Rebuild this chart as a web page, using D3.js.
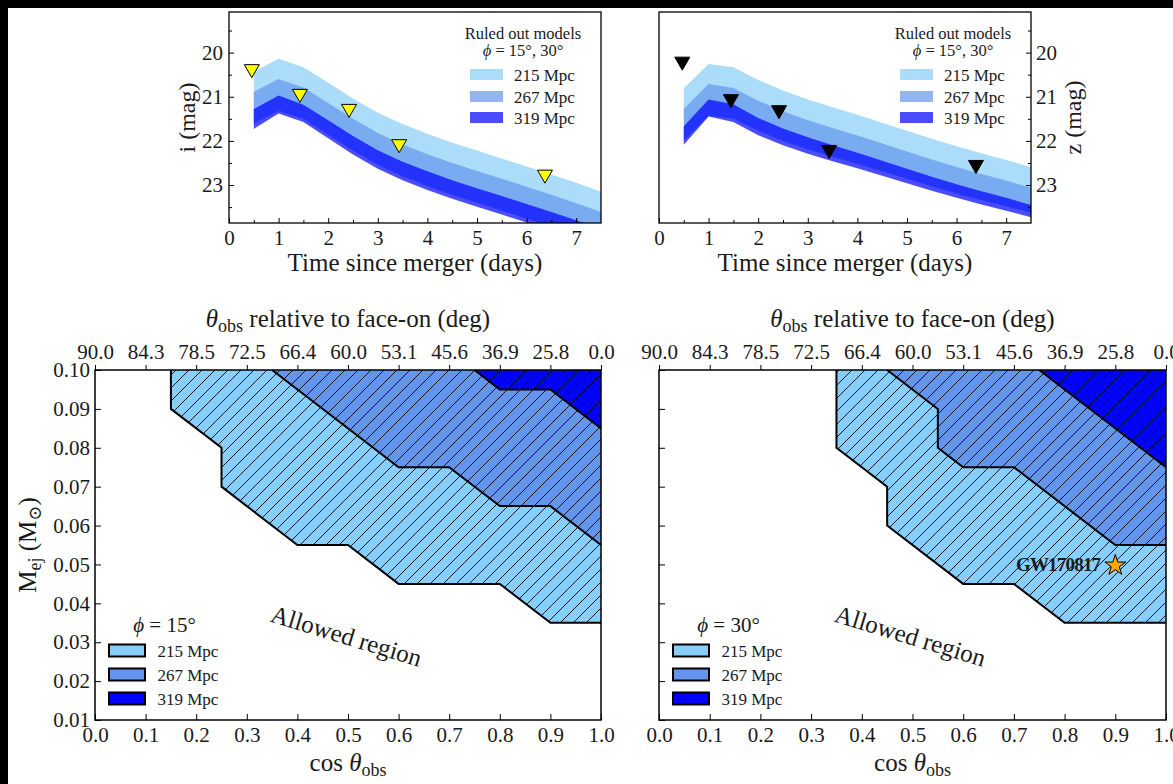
<!DOCTYPE html>
<html><head><meta charset="utf-8">
<script src="https://cdn.jsdelivr.net/npm/d3@7"></script>
<style>
body{margin:0;background:#fff}
svg{display:block}
text{font-family:"Liberation Serif","DejaVu Serif",serif;fill:#1a1a1a}
</style>
</head><body>
<svg id="c" width="1173" height="784"></svg>
<script>
// ---------------- DATA ----------------
// Top panels: light-curve bands (magnitudes) vs time since merger (days)
const tDays = [0.5, 1, 1.5, 2, 2.5, 3, 3.5, 4, 4.5, 5, 5.5, 6, 6.5, 7, 7.5];
// i band
const i215Up = [20.43,20.14,20.33,20.68,21.04,21.36,21.62,21.84,22.04,22.22,22.40,22.58,22.76,22.95,23.15];
const i215Lo = [21.61,21.32,21.50,21.86,22.22,22.54,22.80,23.02,23.22,23.40,23.58,23.76,23.94,24.13,24.33];
const i267Up = [20.89,20.60,20.79,21.14,21.50,21.82,22.08,22.30,22.50,22.68,22.86,23.04,23.22,23.41,23.61];
const i267Lo = [21.61,21.32,21.50,21.86,22.22,22.54,22.80,23.02,23.22,23.40,23.58,23.76,23.94,24.13,24.33];
const i319Up = [21.28,20.97,21.18,21.53,21.89,22.21,22.47,22.69,22.89,23.07,23.25,23.43,23.61,23.80,24.00];
const i319Lo = [21.73,21.38,21.57,21.94,22.31,22.63,22.89,23.11,23.31,23.49,23.67,23.85,24.03,24.22,24.42];
// z band
const z215Up = [20.81,20.26,20.33,20.62,20.86,21.06,21.24,21.41,21.59,21.77,21.95,22.12,22.28,22.43,22.59];
const z215Lo = [21.99,21.43,21.49,21.77,22.00,22.19,22.36,22.52,22.69,22.86,23.03,23.19,23.34,23.48,23.63];
const z267Up = [21.28,20.71,20.80,21.09,21.33,21.53,21.71,21.88,22.06,22.24,22.42,22.59,22.75,22.90,23.06];
const z267Lo = [21.99,21.43,21.49,21.77,22.00,22.19,22.36,22.52,22.69,22.86,23.03,23.19,23.34,23.48,23.63];
const z319Up = [21.67,21.06,21.17,21.48,21.72,21.92,22.10,22.27,22.45,22.63,22.81,22.98,23.14,23.29,23.45];
const z319Lo = [22.09,21.45,21.57,21.87,22.10,22.29,22.46,22.62,22.79,22.96,23.13,23.29,23.44,23.58,23.73];
// upper limits (triangles)
const iLimT   = [0.46, 1.43, 2.42, 3.43, 6.37];
const iLimMag = [20.42, 20.98, 21.32, 22.12, 22.81];
const zLimT   = [0.47, 1.45, 2.42, 3.43, 6.39];
const zLimMag = [20.25, 21.10, 21.35, 22.25, 22.59];
const distLabels = ["215 Mpc", "267 Mpc", "319 Mpc"];
const bandColors = ["#87cefa", "#6495ed", "#0000ff"];

// Bottom panels: ruled-out region boundaries (cos theta_obs, M_ej)
const p15c215 = [0.15,0.15,0.25,0.25,0.40,0.50,0.60,0.80,0.90,1.00];
const p15m215 = [0.100,0.090,0.080,0.070,0.055,0.055,0.045,0.045,0.035,0.035];
const p15c267 = [0.35,0.60,0.70,0.80,0.90,1.00];
const p15m267 = [0.100,0.075,0.075,0.065,0.065,0.055];
const p15c319 = [0.75,0.80,0.90,1.00];
const p15m319 = [0.100,0.095,0.095,0.085];
const p30c215 = [0.35,0.35,0.45,0.45,0.60,0.70,0.80,1.00];
const p30m215 = [0.100,0.080,0.070,0.060,0.045,0.045,0.035,0.035];
const p30c267 = [0.45,0.55,0.55,0.60,0.70,0.90,1.00];
const p30m267 = [0.100,0.090,0.080,0.075,0.075,0.055,0.055];
const p30c319 = [0.75,1.00];
const p30m319 = [0.100,0.075];
const gwCos = 0.9, gwMej = 0.05;
const cosTicks = [0,0.1,0.2,0.3,0.4,0.5,0.6,0.7,0.8,0.9,1.0];
const thetaLabels = ["90.0","84.3","78.5","72.5","66.4","60.0","53.1","45.6","36.9","25.8","0.0"];
const mejTicks = [0.01,0.02,0.03,0.04,0.05,0.06,0.07,0.08,0.09,0.10];
const regionColors = ["#87cefa", "#6495ed", "#0000ff"];

// ---------------- DRAWING ----------------
const FONT = '"Liberation Serif","DejaVu Serif", serif';
const svg = d3.select("#c");
svg.append("rect").attr("x",0).attr("y",0).attr("width",1173).attr("height",784).attr("fill","#000");
svg.append("rect").attr("x",8).attr("y",8).attr("width",1165).attr("height",776).attr("fill","#fff");

const defs = svg.append("defs");
const pat = defs.append("pattern").attr("id","hatch").attr("patternUnits","userSpaceOnUse")
  .attr("width",13).attr("height",13);
pat.append("path").attr("d","M-1,1 l2,-2 M0,13 l13,-13 M12,14 l2,-2")
  .attr("stroke","#000").attr("stroke-width",0.9).attr("fill","none");

function styleAxis(g, fs) {
  g.select(".domain").remove();
  g.attr("font-family", null).attr("font-size", null);
  g.selectAll("text").attr("fill","#1a1a1a").style("font-size", fs+"px").style("font-family", FONT);
  g.selectAll("line").attr("stroke","#000").attr("stroke-width",1);
}

// ---- Top panels ----
function topPanel(id, x0, x1, bands, limT, limMag, triFill, side, ylab) {
  const x = d3.scaleLinear().domain([0,7.5]).range([x0,x1]);
  const y = d3.scaleLinear().domain([19.08,23.86]).range([12,223]);
  defs.append("clipPath").attr("id","clip"+id).append("rect")
    .attr("x",x0).attr("y",12).attr("width",x1-x0).attr("height",211);
  const g = svg.append("g").attr("clip-path","url(#clip"+id+")");
  const area = d3.area().x(d=>x(d.t)).y0(d=>y(d.lo)).y1(d=>y(d.hi));
  bands.forEach((b,k)=>{
    const data = tDays.map((t,j)=>({t, hi:b[0][j], lo:b[1][j]}));
    g.append("path").datum(data).attr("d",area).attr("fill",bandColors[k]).attr("fill-opacity",0.7);
  });
  // triangles (upper limits)
  const tri = "M-7.5,-6.5L7.5,-6.5L0,6.5Z";
  svg.append("g").selectAll("path").data(limT.map((t,j)=>({t,m:limMag[j]}))).join("path")
    .attr("transform",d=>`translate(${x(d.t)},${y(d.m)})`).attr("d",tri)
    .attr("fill",triFill).attr("stroke","#000").attr("stroke-width",1);
  // frame
  svg.append("rect").attr("x",x0).attr("y",12).attr("width",x1-x0).attr("height",211)
    .attr("fill","none").attr("stroke","#000").attr("stroke-width",1.3);
  // x axis
  const gx = svg.append("g").attr("transform","translate(0,223)")
    .call(d3.axisBottom(x).tickValues([0,1,2,3,4,5,6,7]).tickSize(-5).tickPadding(7).tickFormat(d3.format("d")));
  styleAxis(gx, 21);
  const gxm = svg.append("g").attr("transform","translate(0,223)")
    .call(d3.axisBottom(x).tickValues([0.5,1.5,2.5,3.5,4.5,5.5,6.5]).tickSize(-3).tickFormat(""));
  styleAxis(gxm, 21);
  // y axis
  const yMaj = [20,21,22,23], yMin = [19.5,20.5,21.5,22.5,23.5];
  if (side === "left") {
    const gy = svg.append("g").attr("transform",`translate(${x0},0)`)
      .call(d3.axisLeft(y).tickValues(yMaj).tickSize(-5).tickPadding(6).tickFormat(d3.format("d")));
    styleAxis(gy, 21);
    const gym = svg.append("g").attr("transform",`translate(${x0},0)`)
      .call(d3.axisLeft(y).tickValues(yMin).tickSize(-3).tickFormat(""));
    styleAxis(gym, 21);
  } else {
    const gy = svg.append("g").attr("transform",`translate(${x1},0)`)
      .call(d3.axisRight(y).tickValues(yMaj).tickSize(-5).tickPadding(5).tickFormat(d3.format("d")));
    styleAxis(gy, 21);
    const gym = svg.append("g").attr("transform",`translate(${x1},0)`)
      .call(d3.axisRight(y).tickValues(yMin).tickSize(-3).tickFormat(""));
    styleAxis(gym, 21);
  }
  // labels
  svg.append("text").attr("x",(x0+x1)/2).attr("y",271).attr("text-anchor","middle")
    .style("font-size","25px").text("Time since merger (days)");
  const lx = side === "left" ? x0-42 : x1+42;
  svg.append("text").attr("transform",`translate(${lx+8},117.5) rotate(-90)`).attr("text-anchor","middle")
    .style("font-size","24px").text(ylab);
  // legend
  const cx = x0 + 294;
  svg.append("text").attr("x",cx).attr("y",38.5).attr("text-anchor","middle").style("font-size","16.5px").text("Ruled out models");
  const t2 = svg.append("text").attr("x",cx).attr("y",56).attr("text-anchor","middle").style("font-size","16.5px");
  t2.append("tspan").style("font-style","italic").text("ϕ");
  t2.append("tspan").text(" = 15°, 30°");
  distLabels.forEach((lab,k)=>{
    const yy = [69,91,112][k];
    svg.append("rect").attr("x",x0+241).attr("y",yy).attr("width",33).attr("height",11)
      .attr("fill",bandColors[k]).attr("fill-opacity",0.7);
    svg.append("text").attr("x",x0+285).attr("y",yy+12).style("font-size","17px").text(lab);
  });
}

topPanel("tl", 229, 601, [[i215Up,i215Lo],[i267Up,i267Lo],[i319Up,i319Lo]], iLimT, iLimMag, "#ffff00", "left", "i (mag)");
topPanel("tr", 659, 1031, [[z215Up,z215Lo],[z267Up,z267Lo],[z319Up,z319Lo]], zLimT, zLimMag, "#000000", "right", "z (mag)");

// ---- Bottom panels ----
function bottomPanel(x0, x1, regions, phiText, showY, showGW) {
  const x = d3.scaleLinear().domain([0,1]).range([x0,x1]);
  const y = d3.scaleLinear().domain([0.01,0.10]).range([720,370]);
  const line = d3.line().x(d=>x(d[0])).y(d=>y(d[1]));
  regions.forEach((r,k)=>{
    const pts = r[0].map((c,j)=>[c, r[1][j]]);
    const poly = pts.concat([[1.0,0.10]]);
    svg.append("path").attr("d", line(poly)+"Z").attr("fill",regionColors[k]);
    svg.append("path").attr("d", line(poly)+"Z").attr("fill","url(#hatch)");
    svg.append("path").attr("d", line(pts)).attr("fill","none").attr("stroke","#000").attr("stroke-width",2)
      .attr("stroke-linejoin","miter");
  });
  svg.append("rect").attr("x",x0).attr("y",370).attr("width",x1-x0).attr("height",350)
    .attr("fill","none").attr("stroke","#000").attr("stroke-width",1.5);
  // axes
  const gb = svg.append("g").attr("transform","translate(0,720)")
    .call(d3.axisBottom(x).tickValues(cosTicks).tickSize(-6).tickPadding(7).tickFormat(d3.format(".1f")));
  styleAxis(gb, 21);
  const gt = svg.append("g").attr("transform","translate(0,370)")
    .call(d3.axisTop(x).tickValues(cosTicks).tickSize(5).tickPadding(6).tickFormat((d,i)=>thetaLabels[i]));
  styleAxis(gt, 21);
  const gl = svg.append("g").attr("transform",`translate(${x0},0)`)
    .call(d3.axisLeft(y).tickValues(mejTicks).tickSize(-6).tickPadding(5).tickFormat(showY ? d3.format(".2f") : ""));
  styleAxis(gl, 21);
  // labels
  const cx = (x0+x1)/2;
  const tt = svg.append("text").attr("x",cx).attr("y",327).attr("text-anchor","middle").style("font-size","25px");
  tt.append("tspan").style("font-style","italic").text("θ");
  tt.append("tspan").attr("dy",5).style("font-size","18px").text("obs");
  tt.append("tspan").attr("dy",-5).text(" relative to face-on (deg)");
  const xl = svg.append("text").attr("x",cx).attr("y",771).attr("text-anchor","middle").style("font-size","25px");
  xl.append("tspan").text("cos ");
  xl.append("tspan").style("font-style","italic").text("θ");
  xl.append("tspan").attr("dy",5).style("font-size","18px").text("obs");
  // allowed region
  svg.append("text").attr("transform",`translate(${x0+249},644) rotate(17)`).attr("text-anchor","middle")
    .style("font-size","25px").text("Allowed region");
  // legend
  const pt = svg.append("text").attr("x",x0+69.5).attr("y",632).attr("text-anchor","middle").style("font-size","21px");
  pt.append("tspan").style("font-style","italic").text("ϕ");
  pt.append("tspan").text(" = " + phiText);
  distLabels.forEach((lab,k)=>{
    const yy = [644.5,668.5,692.5][k];
    svg.append("rect").attr("x",x0+14).attr("y",yy).attr("width",36).attr("height",12)
      .attr("fill",regionColors[k]).attr("stroke","#000").attr("stroke-width",2);
    svg.append("text").attr("x",x0+62.5).attr("y",yy+12).style("font-size","17px").text(lab);
  });
  if (showGW) {
    svg.append("path").attr("transform",`translate(${x(gwCos)},${y(gwMej)+1})`)
      .attr("d", d3.symbol(d3.symbolStar, 135)()).attr("fill","#ffa500").attr("stroke","#000").attr("stroke-width",1);
    svg.append("text").attr("x",x(gwCos)-15).attr("y",y(gwMej)+7).attr("text-anchor","end")
      .style("font-size","19px").style("font-weight","bold").style("letter-spacing","-0.8px").text("GW170817");
  }
  if (showY) {
    const yl = svg.append("text").attr("transform",`translate(36,545) rotate(-90)`).attr("text-anchor","middle").style("font-size","25px");
    yl.append("tspan").text("M");
    yl.append("tspan").attr("dy",5).style("font-size","18px").text("ej");
    yl.append("tspan").attr("dy",-5).text(" (M");
    yl.append("tspan").attr("dy",5).style("font-size","18px").text("⊙");
    yl.append("tspan").attr("dy",-5).text(")");
  }
}

bottomPanel(95, 601, [[p15c215,p15m215],[p15c267,p15m267],[p15c319,p15m319]], "15°", true, false);
bottomPanel(659, 1166, [[p30c215,p30m215],[p30c267,p30m267],[p30c319,p30m319]], "30°", false, true);
</script>
</body></html>
